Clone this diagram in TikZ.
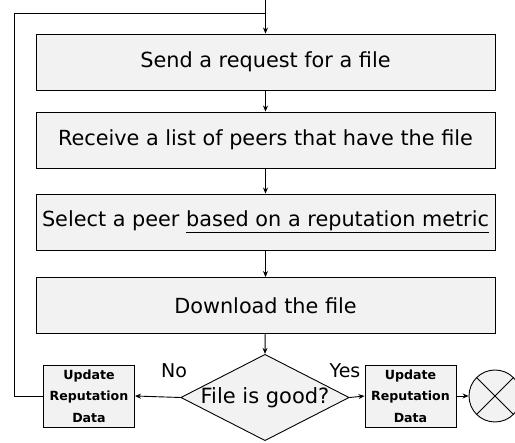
\documentclass[tikz,border=0pt]{standalone}
\usepackage{fontspec}
\setmainfont{DejaVu Sans}
\usetikzlibrary{shapes.geometric,arrows.meta}
\definecolor{boxfill}{HTML}{F2F2F2}
\tikzset{
  stepbox/.style={draw, fill=boxfill, line width=0.9pt, minimum width=459pt, minimum height=56pt, inner sep=0pt, font=\fontsize{20.8}{24}\selectfont},
  smallbox/.style={draw, fill=boxfill, line width=0.9pt, minimum width=91pt, minimum height=62pt, inner sep=0pt, align=center, font=\bfseries\fontsize{12.6}{21.5}\selectfont},
  decision/.style={draw, fill=boxfill, diamond, aspect=1.95, line width=0.9pt, minimum width=166pt, minimum height=85pt, inner sep=0pt, font=\fontsize{21}{24}\selectfont},
  flow/.style={line width=0.9pt, -{Stealth[length=6pt,width=5pt]}},
  plain/.style={line width=0.9pt},
  lbl/.style={font=\fontsize{19}{22}\selectfont, inner sep=0pt}
}
\begin{document}
\begin{tikzpicture}[x=1pt,y=-1pt]
\useasboundingbox (0,0) rectangle (515,443);
\clip (0,0) rectangle (515,443);

% main sequence of steps
\node[stepbox] (s1) at (265.5,62) {Send a request for a file};
\node[stepbox] (s2) at (265.5,140) {Receive a list of peers that have the file};
\node[stepbox] (s3) at (265.5,222) {Select a peer \underline{based on a reputation metric}};
\node[stepbox] (s4) at (265.5,305.5) {Download the file};

% decision and its outcomes
\node[decision] (d) at (265,397.5) {File is good?};
\node[smallbox] (ul) at (89,396) {Update\\Reputation\\Data};
\node[smallbox] (ur) at (410.5,396) {Update\\Reputation\\Data};
\node[draw, fill=boxfill, circle, line width=0.9pt, minimum size=52pt, inner sep=0pt] (end) at (495,396) {};
\draw[line width=0.9pt] (end.north west) -- (end.south east) (end.north east) -- (end.south west);

\node[lbl] (no) at (174,371) {No};
\node[lbl] (yes) at (345,371) {Yes};

% entry point and loop-back junction
\coordinate (in) at (265.5,0);
\coordinate (join) at (265.5,13);
\coordinate (lb) at (14,396);
\coordinate (lt) at (14,13);

\draw[flow] (in) -- (s1.north);
\draw[flow] (s1) -- (s2);
\draw[flow] (s2) -- (s3);
\draw[flow] (s3) -- (s4);
\draw[flow] (s4) -- (d.north);
\draw[flow] (d.west) -- (ul.east);
\draw[flow] (d.east) -- (ur.west);
\draw[flow] (ur.east) -- (end.west);
\draw[plain] (ul.west) -- (lb) -- (lt) -- (join);
\end{tikzpicture}
\end{document}
